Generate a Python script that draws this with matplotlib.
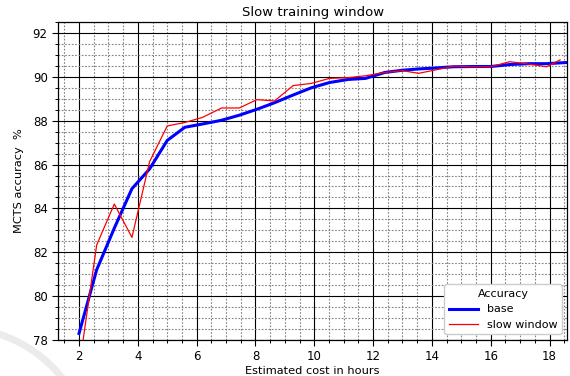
import matplotlib
matplotlib.use('agg')
import matplotlib.pyplot as plt
from matplotlib.ticker import MultipleLocator
from matplotlib.transforms import IdentityTransform
import numpy as np

# Estimated training cost (hours) for each evaluated checkpoint
cost_base = [2.0, 2.6, 3.2, 3.8, 4.4, 5.0, 5.6, 6.2, 6.85, 7.45, 8.05, 8.65, 9.28, 9.9,
             10.52, 11.15, 11.75, 12.4, 13.0, 13.55, 14.1, 14.75, 15.4, 16.0, 16.65,
             17.3, 17.9, 18.55]
acc_base = [78.3, 81.2, 83.1, 84.9, 85.8, 87.1, 87.7, 87.85, 88.02, 88.25, 88.52, 88.82,
            89.17, 89.5, 89.74, 89.88, 89.93, 90.2, 90.3, 90.36, 90.4, 90.46, 90.47,
            90.47, 90.56, 90.6, 90.6, 90.65]

cost_slow = [2.0, 2.6, 3.2, 3.8, 4.4, 5.0, 5.6, 6.2, 6.85, 7.45, 8.05, 8.65, 9.28, 9.9,
             10.52, 11.15, 11.75, 12.4, 13.0, 13.55, 14.1, 14.75, 15.4, 16.0, 16.65,
             17.3, 17.9, 18.36]
acc_slow = [76.7, 82.33, 84.2, 82.68, 86.13, 87.76, 87.92, 88.15, 88.58, 88.58, 88.96,
            88.9, 89.6, 89.7, 89.93, 89.96, 90.05, 90.2, 90.28, 90.16, 90.31, 90.49,
            90.46, 90.46, 90.69, 90.58, 90.46, 90.77]

fig = plt.figure(figsize=(5.7, 3.76), dpi=100)
ax = fig.add_axes([0.102, 0.0957, 0.893, 0.8458])

ax.plot(cost_base, acc_base, color='blue', lw=2.2, label='base')
ax.plot(cost_slow, acc_slow, color='red', lw=0.9, label='slow window')

ax.set_xlim(1.29, 18.6)
ax.set_ylim(78, 92.5)
ax.xaxis.set_major_locator(MultipleLocator(2))
ax.xaxis.set_minor_locator(MultipleLocator(0.5))
ax.yaxis.set_major_locator(MultipleLocator(2))
ax.yaxis.set_minor_locator(MultipleLocator(0.5))

ax.grid(which='major', color='black', lw=0.8, ls='-')
ax.grid(which='minor', color='0.5', lw=0.8, ls=(0, (1.5, 1.5)))
ax.set_axisbelow(True)
ax.tick_params(which='major', direction='out', length=4, width=0.8, labelsize=8.5)
ax.tick_params(which='minor', direction='out', length=2.5, width=0.7)
for s in ax.spines.values():
    s.set_linewidth(0.9)

ax.set_title('Slow training window', fontsize=9.5, pad=4)
ax.set_xlabel('Estimated cost in hours', fontsize=8.2, labelpad=2)
ax.set_ylabel('MCTS accuracy  %', fontsize=8.2, labelpad=6)

leg = ax.legend(title='Accuracy', loc='lower right', fontsize=8, title_fontsize=8,
                framealpha=1, edgecolor='0.8', handlelength=2.6)

# faint circular swoosh in the lower-left corner
t = np.linspace(0, np.pi / 2, 200)
cx, cy, r = -42, 376 - 460.6, 133
fig.add_artist(plt.Line2D(cx + r * np.cos(t), cy + r * np.sin(t), color='#ebebeb',
                          lw=5, transform=IdentityTransform(), zorder=-5))

fig.savefig('out.png', dpi=100)
